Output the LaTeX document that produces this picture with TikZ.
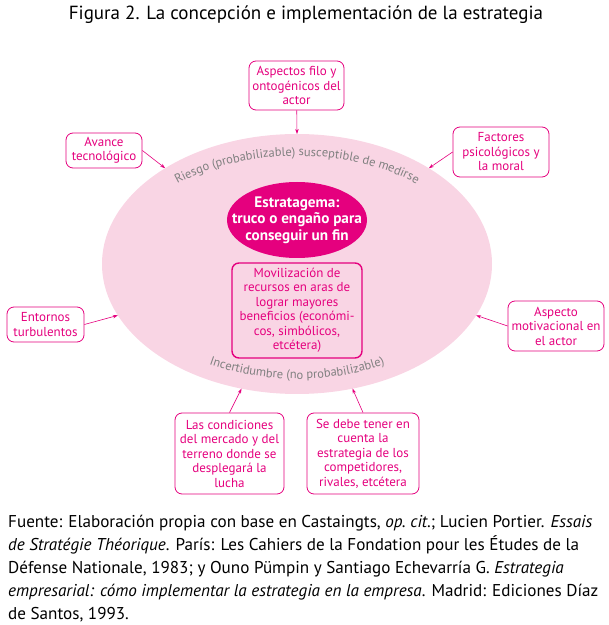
\documentclass[tikz,border=0pt]{standalone}
\usepackage{fontspec}
\setmainfont{PT Sans}
\usetikzlibrary{shapes.geometric,decorations.text,arrows.meta}
\definecolor{rosa}{RGB}{229,0,126}
\definecolor{rosaclaro}{RGB}{249,213,228}
\definecolor{gris}{RGB}{128,128,128}
\tikzset{
  caja/.style={draw=rosa,line width=0.8pt,rounded corners=7pt,fill=white,text=rosa,
    align=center,inner sep=1pt,font=\fontsize{13}{14.5}\selectfont},
  flecha/.style={-{Stealth[length=5pt,width=3.5pt]},rosa,line width=0.6pt}
}
\begin{document}
\begin{tikzpicture}[x=1pt,y=1pt]
      \useasboundingbox (0,0) rectangle (609,625);
      \node (titulo) at (306,610) {\fontsize{19}{20}\selectfont Figura 2. La concepción e implementación de la estrategia};

      \node[ellipse,fill=rosaclaro,minimum width=390pt,minimum height=260pt,inner sep=0pt,outer sep=0pt] (campo) at (297,361) {};
      \node[ellipse,fill=rosa,inner sep=0pt,minimum width=140pt,minimum height=76pt] (estratagema) at (297,405) {};
      \node[text=white,align=center,font=\bfseries\fontsize{15.2}{16.5}\selectfont] (fin) at (estratagema) {Estratagema:\\truco o engaño para\\conseguir un fin};
      \node[caja,fill=none,line width=1.4pt,minimum width=130pt,minimum height=95pt] (movilizacion) at (297,314.5)
        {Movilización de\\recursos en aras de\\lograr mayores\\beneficios (económi-\\cos, simbólicos,\\etcétera)};

      \path[decorate,decoration={text along path,text align=center,
        text={|\color{gris}\fontsize{12.5}{12.5}\selectfont|Riesgo (probabilizable) susceptible de medirse}}]
        ([shift={(150:178 and 108)}]campo.center) arc (150:30:178 and 108);
      \path[decorate,decoration={text along path,text align=center,
        text={|\color{gris}\fontsize{12.5}{12.5}\selectfont|Incertidumbre (no probabilizable)}}]
        ([shift={(210:180 and 115)}]campo.center) arc (210:330:180 and 115);

      \node[caja,minimum width=95pt,minimum height=49pt] (aspectos) at (296.5,539.5) {Aspectos filo y\\ontogénicos del\\actor};
      \node[caja,minimum width=76pt,minimum height=35pt] (avance) at (104,474.5) {Avance\\tecnológico};
      \node[caja,minimum width=96pt,minimum height=50pt] (factores) at (501,473) {Factores\\psicológicos y\\la moral};
      \node[caja,minimum width=77pt,minimum height=35pt] (entornos) at (45.5,300.5) {Entornos\\turbulentos};
      \node[caja,minimum width=96pt,minimum height=50pt] (motivo) at (556,299) {Aspecto\\motivacional en\\el actor};
      \node[caja,minimum width=109pt,minimum height=81pt] (condiciones) at (229.5,171.5)
        {Las condiciones\\del mercado y del\\terreno donde se\\desplegará la\\lucha};
      \node[caja,minimum width=112pt,minimum height=81pt] (competidores) at (363,171.5)
        {Se debe tener en\\cuenta la\\estrategia de los\\competidores,\\rivales, etcétera};

      \draw (aspectos) edge[flecha] (campo.north);
      \draw (avance.east) edge[flecha] (campo.144);
      \draw (factores.west) edge[flecha] (campo.36);
      \draw (entornos.east) edge[flecha] (campo.196);
      \draw (motivo.west) edge[flecha] (campo.344);
      \draw (condiciones.north) edge[flecha] (campo.246);
      \draw (competidores.north) edge[flecha] (campo.294);

      \node[anchor=north west,align=left,inner sep=0pt,font=\fontsize{17.1}{23.1}\selectfont] (fuente) at (8,110)
        {Fuente: Elaboración propia con base en Castaingts, \textit{op.\ cit.}; Lucien Portier. \textit{Essais}\\
        \textit{de Stratégie Théorique}. París: Les Cahiers de la Fondation pour les Études de la\\
        Défense Nationale, 1983; y Ouno Pümpin y Santiago Echevarría G. \textit{Estrategia}\\
        \textit{empresarial: cómo implementar la estrategia en la empresa}. Madrid: Ediciones Díaz\\
        de Santos, 1993.};
    \end{tikzpicture}
\end{document}
